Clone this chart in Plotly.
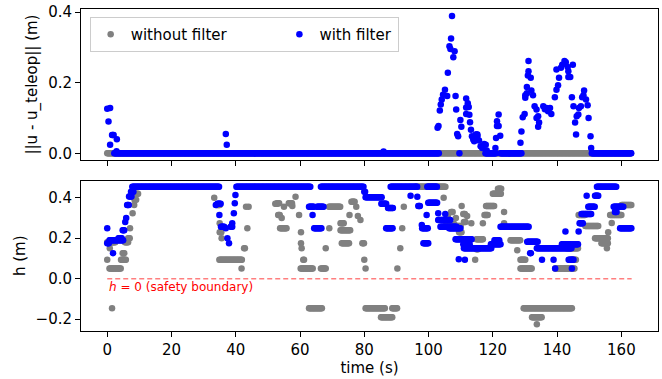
import numpy as np
import plotly.graph_objects as go
from plotly.subplots import make_subplots

# ---------------- data ----------------
# Each series is stored as runs of samples: start time (s), end time (s), value.
# A run with start == end is a single sample. Samples are every DT seconds.
DT = 0.25

# top panel: ||u - u_teleop|| (m)
u_nofilter_t0 = [0.0]
u_nofilter_t1 = [163.2]
u_nofilter_v = [0.0]

u_filter_t0 = [0.0, 0.9, 0.4, 0.9, 1.5, 3.0, 2.9, 2.2, 36.9, 37.2, 86.0,
               102.8, 103.1, 103.5, 103.8, 104.1, 104.5, 105.1, 105.8, 106.0, 106.5, 106.8,
               107.0, 107.3, 107.7, 108.1, 108.4, 108.6, 108.9, 109.2, 109.6, 109.9, 110.2,
               111.7, 111.7, 111.7, 112.2, 112.5, 112.7, 112.9, 113.2, 113.5, 113.9, 114.2,
               114.7, 115.2, 115.7, 116.2, 116.7, 117.3, 117.8, 118.1, 117.7, 120.8, 121.0,
               121.3, 121.3, 121.8, 121.8, 122.3, 122.4,
               128.6, 128.9, 129.3, 129.9, 130.1, 130.1, 130.6, 130.6, 130.9, 131.1, 131.1,
               131.8, 132.0, 132.5, 133.0, 133.6, 133.6, 134.1, 134.1, 134.4, 135.7, 136.2,
               136.7, 137.2, 137.8, 138.2, 139.3, 139.8, 139.8, 140.3, 140.6, 141.2, 141.6,
               142.3, 142.7, 143.3, 143.5, 143.5, 144.1, 144.6, 144.9, 145.1, 145.6, 145.9,
               146.1, 146.6, 146.8, 147.4, 147.8, 148.2, 148.4, 149.0, 149.5, 149.8, 150.4,
               150.6, 150.8]
u_filter_t1 = [0.0, 0.9, 0.4, 0.9, 2.2, 3.0, 2.9, 103.2, 36.9, 37.2, 86.0,
               102.8, 103.1, 103.5, 103.8, 104.1, 104.5, 105.1, 105.8, 106.0, 106.5, 106.8,
               107.0, 107.3, 107.7, 108.1, 108.4, 108.6, 108.9, 109.2, 109.6, 109.9, 110.2,
               111.7, 111.7, 111.7, 112.2, 112.5, 112.7, 112.9, 113.2, 113.5, 113.9, 114.2,
               115.2, 115.2, 115.7, 116.2, 116.7, 117.3, 117.8, 118.1, 121.0, 120.8, 121.0,
               121.3, 121.3, 121.8, 121.8, 122.3, 129.1,
               128.6, 128.9, 129.3, 129.9, 130.1, 130.1, 130.6, 130.6, 130.9, 131.1, 131.1,
               131.8, 132.0, 132.5, 133.0, 133.6, 133.6, 134.1, 134.1, 134.4, 135.7, 136.2,
               136.7, 137.2, 137.8, 138.2, 139.3, 139.8, 139.8, 140.3, 140.6, 141.2, 141.6,
               142.3, 142.7, 143.3, 143.5, 143.5, 144.1, 144.6, 144.9, 145.1, 145.6, 145.9,
               146.1, 146.6, 146.8, 147.4, 147.8, 148.2, 148.4, 149.0, 149.5, 149.8, 150.4,
               150.6, 163.2]
u_filter_v = [0.126, 0.128, 0.090, 0.024, 0.052, 0.040, 0.006, 0.0, 0.055, 0.024, 0.005,
              0.072, 0.077, 0.121, 0.138, 0.152, 0.166, 0.180, 0.162, 0.228, 0.303, 0.295,
              0.325, 0.389, 0.272, 0.289, 0.162, 0.124, 0.055, 0.048, 0.0, 0.094, 0.075,
              0.155, 0.130, 0.111, 0.142, 0.131, 0.109, 0.088, 0.067, 0.048, 0.039, 0.034,
              0.053, 0.048, 0.036, 0.020, 0.015, 0.026, 0.024, 0.008, 0.0, 0.015, 0.043,
              0.077, 0.091, 0.077, 0.110, 0.050, 0.0,
              0.030, 0.062, 0.102, 0.111, 0.164, 0.157, 0.188, 0.170, 0.220, 0.261, 0.232,
              0.214, 0.178, 0.164, 0.133, 0.124, 0.100, 0.105, 0.075, 0.087, 0.133, 0.125,
              0.128, 0.119, 0.128, 0.111, 0.159, 0.180, 0.237, 0.193, 0.214, 0.242, 0.251,
              0.261, 0.258, 0.244, 0.232, 0.216, 0.216, 0.159, 0.251, 0.133, 0.087, 0.053,
              0.105, 0.110, 0.128, 0.133, 0.159, 0.164, 0.178, 0.152, 0.136, 0.100, 0.048,
              0.015, 0.0]

# bottom panel: h (m)
h_nofilter_t0 = [1.5, 0.7, 0.0, 4.3, 4.8, 0.8, 0.0, 5.5, 6.5, 7.1, 7.9, 8.4, 8.5, 9.1,
                 33.3, 34.0, 35.0, 35.0, 35.6, 34.9, 41.8, 42.6, 43.2, 43.6, 44.0,
                 52.3, 53.0, 53.2, 54.3, 53.8, 55.0, 56.5, 57.6, 58.6, 59.7, 60.3, 60.3, 60.5,
                 61.0, 60.2, 62.8,
                 66.5, 68.0, 69.1, 69.0, 72.6, 72.6, 73.0, 75.4, 76.0, 77.5, 78.0, 78.8, 79.4,
                 80.0, 80.4, 80.4, 85.2, 88.7,
                 90.3, 91.2, 91.8, 92.3, 96.0, 104.7, 106.0, 107.0, 108.5, 110.3, 110.8, 112.0,
                 105.5, 107.5, 109.0, 111.0, 109.5, 113.3, 114.9, 114.9, 114.5, 117.9, 117.4,
                 116.9, 120.0, 121.6, 123.5, 123.5, 125.5, 127.6, 128.6, 128.6, 129.6, 132.2,
                 133.7, 139.4, 144.6, 143.0, 146.7, 148.8, 151.8, 153.8, 155.5, 155.9, 157.0,
                 156.5, 160.1]
h_nofilter_t1 = [1.5, 4.3, 0.2, 5.9, 5.5, 0.8, 2.7, 6.5, 7.1, 7.1, 7.9, 8.4, 9.1, 9.6,
                 33.3, 35.0, 35.0, 35.5, 35.6, 42.1, 42.0, 43.0, 43.2, 43.6, 44.0,
                 53.0, 53.5, 53.8, 54.3, 55.9, 55.0, 57.5, 57.6, 58.6, 59.7, 60.3, 60.3, 60.5,
                 61.3, 64.0, 67.0,
                 68.0, 68.0, 69.1, 72.7, 73.6, 75.6, 75.3, 75.4, 77.0, 77.5, 78.0, 78.8, 79.9,
                 80.2, 80.6, 86.6, 88.7, 90.3,
                 90.4, 91.2, 91.8, 92.3, 105.3, 104.7, 106.0, 107.5, 108.5, 110.3, 111.5, 112.0,
                 106.5, 108.0, 110.0, 111.5, 110.3, 113.3, 117.0, 115.5, 114.5, 120.4, 118.4,
                 116.9, 122.6, 122.6, 123.5, 123.5, 128.6, 127.6, 130.2, 132.2, 144.6, 135.3,
                 133.7, 145.6, 146.0, 146.7, 148.8, 152.9, 156.0, 156.0, 155.5, 155.9, 157.0,
                 160.1, 163.2]
h_nofilter_v = [-0.147, 0.050, 0.093, 0.093, 0.126, 0.150, 0.180, 0.180, 0.200, 0.250, 0.324,
                0.365, 0.390, 0.420,
                0.400, 0.365, 0.274, 0.230, 0.200, 0.093, 0.050, 0.150, 0.356, 0.250, 0.356,
                0.370, 0.373, 0.315, 0.300, 0.250, 0.356, 0.373, 0.360, 0.405, 0.315, 0.230,
                0.175, 0.150, 0.093, 0.050, -0.147,
                0.050, 0.150, 0.250, 0.356, 0.274, 0.240, 0.175, 0.315, 0.380, 0.356, 0.310,
                0.290, 0.175, 0.093, 0.050, -0.147, -0.191, -0.147,
                0.050, 0.150, 0.250, 0.356, 0.455, 0.400, 0.310, 0.330, 0.300, 0.360, 0.320,
                0.310, 0.280, 0.270, 0.260, 0.280, 0.230, 0.274, 0.195, 0.145, 0.093, 0.360,
                0.315, 0.274, 0.420, 0.445, 0.330, 0.274, 0.190, 0.140, 0.093, 0.050, -0.147,
                -0.191, -0.225, 0.050, 0.093, 0.150, 0.315, 0.260, 0.200, 0.175, 0.150, 0.230,
                0.275, 0.315, 0.365]

h_filter_t0 = [0.0, 0.0, 0.7, 1.8, 3.5, 4.8, 5.6, 5.9, 6.2, 6.8, 7.4, 7.8,
               33.8, 34.3, 34.9, 35.4, 36.9, 37.4, 37.9, 38.4, 38.9, 39.4, 39.7, 39.9, 40.2,
               62.8, 65.3, 63.9, 64.4, 66.5, 80.0, 80.4, 85.3, 87.4, 86.8, 88.2,
               94.4, 96.5, 96.8, 97.9, 98.0, 98.4, 99.4, 99.6, 99.9, 103.0, 105.2, 103.0,
               103.7, 106.4, 108.4, 110.8, 111.0, 111.3, 109.4, 119.4, 120.5, 122.4, 130.7,
               131.6, 133.7, 135.3, 138.9, 139.4, 143.6, 144.6, 141.5, 142.6, 146.7, 147.0,
               147.6, 149.7, 149.2, 151.8, 152.4, 157.6, 158.0, 159.6]
h_filter_t1 = [0.0, 0.5, 5.1, 1.8, 4.5, 5.4, 5.6, 5.9, 6.8, 7.7, 8.2, 34.9,
               33.8, 35.4, 34.9, 36.4, 36.9, 37.4, 37.9, 38.9, 38.9, 39.4, 39.7, 39.9, 63.4,
               64.4, 67.5, 63.9, 66.8, 79.9, 80.3, 85.6, 86.8, 89.0, 89.0, 96.5,
               94.4, 96.5, 97.4, 97.9, 99.9, 99.9, 99.4, 102.7, 102.7, 103.0, 105.2, 106.8,
               108.9, 110.0, 113.6, 112.9, 119.7, 111.3, 109.4, 122.4, 122.0, 131.2, 134.0,
               131.9, 144.6, 135.3, 138.9, 139.4, 145.1, 144.6, 146.6, 142.6, 146.7, 148.0,
               150.7, 151.8, 149.2, 152.8, 158.6, 160.6, 158.5, 163.2]
h_filter_v = [0.250, 0.175, 0.190, 0.126, 0.200, 0.240, 0.280, 0.300, 0.365, 0.406, 0.430, 0.455,
              0.365, 0.370, 0.315, 0.257, 0.250, 0.200, 0.175, 0.257, 0.274, 0.324, 0.373,
              0.414, 0.455,
              0.356, 0.356, 0.315, 0.250, 0.455, 0.430, 0.403, 0.370, 0.350, 0.250, 0.455,
              0.410, 0.405, 0.360, 0.266, 0.250, 0.175, 0.315, 0.455, 0.376, 0.324, 0.320,
              0.290, 0.257, 0.250, 0.195, 0.170, 0.150, 0.093, 0.096, 0.170, 0.190, 0.257,
              0.183, 0.126, 0.150, 0.093, 0.093, 0.050, 0.093, 0.050, 0.170, 0.233, 0.233,
              0.274, 0.320, 0.356, 0.410, 0.410, 0.455, 0.356, 0.330, 0.250]

boundary_t = [0.0, 163.2]
boundary_h = [0.0, 0.0]

x_ticks = [0, 20, 40, 60, 80, 100, 120, 140, 160]
u_ticks = [0.0, 0.2, 0.4]
h_ticks = [-0.2, 0.0, 0.2, 0.4]

series_names = ["without filter", "with filter"]


def expand(t0s, t1s, vs):
    ts, ys = [], []
    for a, b, v in zip(t0s, t1s, vs):
        seg = np.arange(a, b + 1e-9, DT) if b > a else np.array([a])
        ts.extend(seg.tolist())
        ys.extend([v] * len(seg))
    return ts, ys


FONT = "DejaVu Sans"
GREY = "#808080"
BLUE = "#0000ff"
PAD = "\u00a0" * 10   # extra room after the first legend entry

fig = make_subplots(rows=2, cols=1, shared_xaxes=True, vertical_spacing=0.064)

for (t0, t1, v, name, color, row, show) in [
    (u_nofilter_t0, u_nofilter_t1, u_nofilter_v, series_names[0] + PAD, GREY, 1, True),
    (u_filter_t0, u_filter_t1, u_filter_v, series_names[1], BLUE, 1, True),
    (h_nofilter_t0, h_nofilter_t1, h_nofilter_v, series_names[0], GREY, 2, False),
    (h_filter_t0, h_filter_t1, h_filter_v, series_names[1], BLUE, 2, False),
]:
    tx, vy = expand(t0, t1, v)
    fig.add_trace(go.Scatter(x=tx, y=vy, mode="markers", name=name,
                             marker=dict(color=color, size=6.5, line=dict(width=0)),
                             showlegend=show), row=row, col=1)

fig.add_trace(go.Scatter(x=boundary_t, y=boundary_h, mode="lines", showlegend=False,
                         line=dict(color="rgba(255,0,0,0.5)", width=1.5, dash="5px,3px")),
              row=2, col=1)

fig.add_annotation(x=0, y=-0.04, xref="x2", yref="y2", xanchor="left", yanchor="middle",
                   text="<i>h</i> = 0 (safety boundary)", showarrow=False,
                   font=dict(family=FONT, size=12, color="red"))

axis_common = dict(showline=True, linecolor="black", linewidth=1, mirror=True,
                   ticks="outside", ticklen=5, tickwidth=1, tickcolor="black",
                   showgrid=False, zeroline=False, automargin=False,
                   tickfont=dict(family=FONT, size=15, color="black"))

fig.update_xaxes(range=[-8.16, 171.4], tickvals=x_ticks, **axis_common)
fig.update_xaxes(showticklabels=False, row=1, col=1)
fig.update_xaxes(title=dict(text="time (s)", font=dict(family=FONT, size=15, color="black"),
                            standoff=2), row=2, col=1)
fig.update_yaxes(range=[-0.019, 0.4085], tickvals=u_ticks, tickformat=".1f",
                 title=dict(text="||u - u_teleop|| (m)", font=dict(family=FONT, size=15, color="black"),
                            standoff=6),
                 row=1, col=1, **axis_common)
fig.update_yaxes(range=[-0.259, 0.485], tickvals=h_ticks, tickformat=".1f",
                 title=dict(text="h (m)", font=dict(family=FONT, size=15, color="black"),
                            standoff=6),
                 row=2, col=1, **axis_common)

fig.update_layout(
    width=662, height=379,
    margin=dict(l=81, r=4, t=9, b=48),
    plot_bgcolor="white", paper_bgcolor="white",
    font=dict(family=FONT, size=15, color="black"),
    legend=dict(orientation="h", x=0.015, y=0.975, xanchor="left", yanchor="top",
                bgcolor="rgba(255,255,255,0.8)", bordercolor="#cccccc", borderwidth=1,
                font=dict(family=FONT, size=15, color="black")),
)
fig.layout.yaxis.domain = [0.531, 1.0]
fig.layout.yaxis2.domain = [0.0, 0.467]

fig.write_html("out.html", config={"displayModeBar": False},
               post_script="document.body.style.margin='0px';")
